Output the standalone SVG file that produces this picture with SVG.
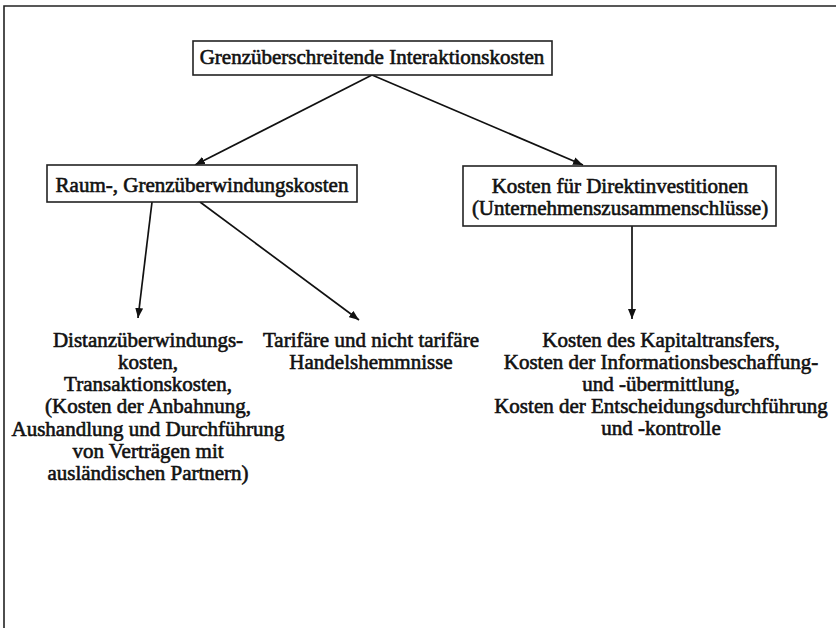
<svg xmlns="http://www.w3.org/2000/svg" width="836" height="628" viewBox="0 0 836 628">
<defs>
<marker id="ah" viewBox="0 0 10 8" refX="10" refY="4" markerWidth="10" markerHeight="8" markerUnits="userSpaceOnUse" orient="auto">
<path d="M0,0 L10,4 L0,8 Z" fill="#111"/>
</marker>
<style>
text{font-family:"Liberation Serif","Times New Roman",serif;font-size:21px;fill:#111;text-anchor:middle;stroke:#111;stroke-width:0.6px}
.box{fill:#fff;stroke:#222;stroke-width:1.6}
.frame{fill:none;stroke:#222;stroke-width:1.6}
.conn line{stroke:#111;stroke-width:1.7;marker-end:url(#ah)}
</style>
</defs>
<rect width="836" height="628" fill="#fff"/>
<path class="frame" d="M4,628 V6 H836"/>
<g id="connectors" class="conn">
<line x1="372" y1="75" x2="195" y2="165"/>
<line x1="372" y1="75" x2="583" y2="165"/>
<line x1="152" y1="202" x2="138" y2="318"/>
<line x1="200" y1="202" x2="359" y2="320"/>
<line x1="632" y1="226" x2="632" y2="319"/>
</g>
<g id="n-root">
<rect class="box" x="193" y="41" width="359" height="34"/>
<text x="372" y="64">Grenzüberschreitende Interaktionskosten</text>
</g>
<g id="n-raum">
<rect class="box" x="47" y="165" width="310" height="37"/>
<text x="202" y="192">Raum-, Grenzüberwindungskosten</text>
</g>
<g id="n-direkt">
<rect class="box" x="463" y="166" width="313" height="60"/>
<text x="620" y="193">Kosten für Direktinvestitionen</text>
<text x="620" y="215">(Unternehmenszusammenschlüsse)</text>
</g>
<g id="n-distanz">
<text x="148" y="347">Distanzüberwindungs-</text>
<text x="148" y="369">kosten,</text>
<text x="148" y="391">Transaktionskosten,</text>
<text x="148" y="413">(Kosten der Anbahnung,</text>
<text x="148" y="436">Aushandlung und Durchführung</text>
<text x="148" y="458">von Verträgen mit</text>
<text x="148" y="480">ausländischen Partnern)</text>
</g>
<g id="n-tarif">
<text x="371" y="347">Tarifäre und nicht tarifäre</text>
<text x="371" y="369">Handelshemmnisse</text>
</g>
<g id="n-kapital">
<text x="661" y="347">Kosten des Kapitaltransfers,</text>
<text x="661" y="369">Kosten der Informationsbeschaffung-</text>
<text x="661" y="391">und -übermittlung,</text>
<text x="661" y="413">Kosten der Entscheidungsdurchführung</text>
<text x="661" y="435">und -kontrolle</text>
</g>
</svg>
